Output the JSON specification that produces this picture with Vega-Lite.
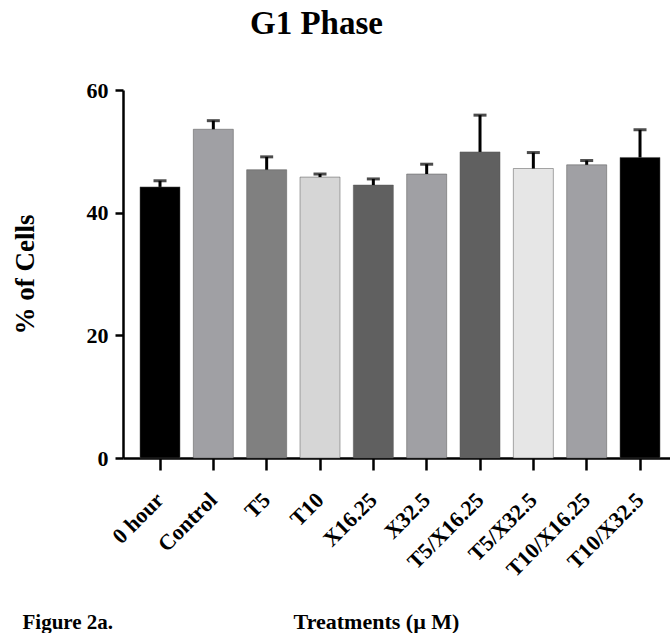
{
  "$schema": "https://vega.github.io/schema/vega-lite/v6.json",
  "width": 547,
  "height": 368,
  "autosize": {"type": "none"},
  "padding": {"left": 123, "top": 90, "right": 0, "bottom": 175},
  "background": "white",
  "title": {"text": "G1 Phase", "font": "Liberation Serif", "fontSize": 33, "fontWeight": "bold", "color": "black", "anchor": "middle", "dx": -80, "offset": 12, "baseline": "alphabetic", "frame": "group"},
  "config": {"view": {"stroke": null}},
  "data": {"values": [
    {"t": "0 hour", "v": 44.2, "u": 45.2},
    {"t": "Control", "v": 53.6, "u": 55.0},
    {"t": "T5", "v": 47.0, "u": 49.1},
    {"t": "T10", "v": 45.8, "u": 46.3},
    {"t": "X16.25", "v": 44.5, "u": 45.5},
    {"t": "X32.5", "v": 46.3, "u": 47.9},
    {"t": "T5/X16.25", "v": 49.9, "u": 55.9},
    {"t": "T5/X32.5", "v": 47.2, "u": 49.8},
    {"t": "T10/X16.25", "v": 47.8, "u": 48.5},
    {"t": "T10/X32.5", "v": 49.0, "u": 53.5}
  ]},
  "resolve": {"axis": {"x": "independent"}},
  "layer": [
    {
      "mark": {"type": "bar", "stroke": "#555555", "strokeWidth": 0.5},
      "encoding": {
        "x": {"field": "t", "type": "nominal", "sort": null,
          "scale": {"paddingInner": 0.25, "paddingOuter": 0.253, "align": 0.63},
          "axis": {"orient": "bottom", "title": "Treatments (\u00b5 M)", "titleFont": "Liberation Serif", "titleFontSize": 22, "titleFontWeight": "bold", "titleColor": "black",
            "titleX": 253, "titleY": 170, "titleAlign": "center", "titleBaseline": "alphabetic",
            "labelAngle": -45, "labelAlign": "right", "labelBaseline": "middle", "labelFont": "Liberation Serif", "labelFontSize": 22, "labelFontWeight": "bold", "labelColor": "black", "labelPadding": 26,
            "domainColor": "black", "domainWidth": 2.5, "tickColor": "black", "tickWidth": 2.5, "tickSize": 12, "grid": false}},
        "y": {"field": "v", "type": "quantitative", "title": "% of Cells",
          "scale": {"domain": [0, 60], "nice": false},
          "axis": {"values": [0, 20, 40, 60], "titleFont": "Liberation Serif", "titleFontSize": 27, "titleFontWeight": "bold", "titleColor": "black",
            "titleAngle": -90, "titleX": -90, "titleY": 184, "titleAlign": "center", "titleBaseline": "alphabetic",
            "labelFont": "Liberation Serif", "labelFontSize": 22, "labelFontWeight": "bold", "labelColor": "black", "labelPadding": 7,
            "domainColor": "black", "domainWidth": 2.5, "tickColor": "black", "tickWidth": 2.5, "tickSize": 8, "grid": false}},
        "color": {"field": "t", "type": "nominal", "legend": null,
          "scale": {"domain": ["0 hour", "Control", "T5", "T10", "X16.25", "X32.5", "T5/X16.25", "T5/X32.5", "T10/X16.25", "T10/X32.5"],
            "range": ["#000000", "#a0a0a4", "#808080", "#d6d6d6", "#606060", "#a0a0a4", "#606060", "#e6e6e6", "#a0a0a4", "#000000"]}}
      }
    },
    {
      "mark": {"type": "rule", "color": "black", "strokeWidth": 3},
      "encoding": {
        "x": {"field": "t", "type": "nominal", "sort": null,
          "axis": {"orient": "bottom", "title": "Figure 2a.", "titleFont": "Liberation Serif", "titleFontSize": 21, "titleFontWeight": "bold", "titleColor": "black",
            "titleX": -101, "titleY": 170, "titleAlign": "left", "titleBaseline": "alphabetic",
            "labels": false, "ticks": false, "domain": false, "grid": false}},
        "y": {"field": "v", "type": "quantitative", "title": "% of Cells"},
        "y2": {"field": "u"}
      }
    },
    {
      "mark": {"type": "tick", "color": "black", "thickness": 3, "size": 13},
      "encoding": {
        "x": {"field": "t", "type": "nominal", "sort": null, "axis": null},
        "y": {"field": "u", "type": "quantitative", "title": "% of Cells"}
      }
    }
  ]
}
